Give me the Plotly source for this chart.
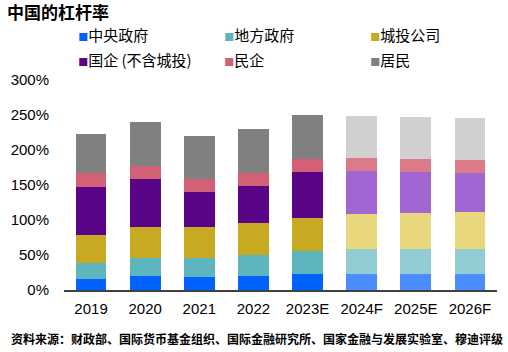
import plotly.graph_objects as go

years = ["2019", "2020", "2021", "2022", "2023E", "2024F", "2025E", "2026F"]
series_names = ["中央政府", "地方政府", "城投公司", "国企 (不含城投)", "民企", "居民"]
central = [15.7, 19.5, 19.0, 20.5, 23.3, 23.3, 23.3, 23.3]
local = [22.3, 25.7, 27.2, 29.0, 31.9, 35.3, 35.3, 35.3]
lgfv = [40.6, 45.3, 43.8, 46.2, 48.1, 50.0, 51.4, 52.8]
soe = [69.0, 68.1, 50.5, 53.3, 65.3, 61.4, 58.6, 55.7]
private = [19.1, 18.1, 18.5, 18.6, 18.5, 18.6, 18.5, 18.6]
household = [55.7, 62.8, 61.5, 61.9, 62.9, 60.0, 60.0, 60.0]
n_actual = 5

dark_colors = ["#0062FF", "#5FB5BD", "#C8AA22", "#5A0587", "#D36075", "#808080"]
light_colors = ["#4A8DFF", "#93CDD3", "#E8D77C", "#A266D3", "#DB7A89", "#D1CFD0"]

W, H = 508, 352
ML, MR, MT, MB = 61, 11, 80, 62
plot_w = W - ML - MR
plot_h = H - MT - MB

def paper_x(px):
    return (px - ML) / plot_w

def paper_y(py):
    return (H - MB - py) / plot_h

font_family = "Liberation Sans, Arial, Noto Sans CJK SC, sans-serif"
cjk = "Noto Sans CJK SC, Liberation Sans, sans-serif"

fig = go.Figure()
all_series = [central, local, lgfv, soe, private, household]
for i, (name, vals, dc, lc) in enumerate(zip(series_names, all_series, dark_colors, light_colors)):
    colors = [dc if k < n_actual else lc for k in range(len(years))]
    fig.add_trace(go.Bar(
        x=years, y=vals, name=name, showlegend=False, legendgroup=name,
        marker=dict(color=colors, line=dict(width=0)),
        hovertemplate="%{x}: %{y}%<extra>" + name + "</extra>",
    ))
    label = ("<span style='font-size:10px;color:%s'>■</span>" % dc) + name
    fig.add_trace(go.Scatter(
        x=[None], y=[None], mode="markers", name=label, legendgroup=name,
        legend="legend" if i < 3 else "legend2",
        marker=dict(symbol="square", size=1, color="rgba(0,0,0,0)"),
    ))

leg_common = dict(
    orientation="h", xref="paper", yref="paper",
    xanchor="left", yanchor="middle",
    entrywidth=101, entrywidthmode="pixels",
    font=dict(size=15, family=cjk, color="#000000"),
    itemwidth=30, bgcolor="rgba(0,0,0,0)", traceorder="normal",
    borderwidth=0,
)

fig.update_layout(
    barmode="stack",
    bargap=0.43,
    width=W, height=H,
    margin=dict(l=ML, r=MR, t=MT, b=MB),
    paper_bgcolor="white", plot_bgcolor="white",
    font=dict(family=font_family, size=15, color="#000000"),
    showlegend=True,
    legend=dict(leg_common, x=paper_x(35), y=paper_y(35)),
    legend2=dict(leg_common, x=paper_x(35), y=paper_y(60)),
    title=dict(
        text="<b>中国的杠杆率</b>", x=7 / W, xref="container", xanchor="left",
        y=1 - 13 / H, yref="container", yanchor="middle",
        font=dict(size=17, family=cjk, color="#000000"),
    ),
    xaxis=dict(
        showline=True, linecolor="#404040", linewidth=1.5,
        ticks="", showgrid=False, tickfont=dict(size=15),
        ticklabelstandoff=4,
    ),
    yaxis=dict(
        range=[0, 300], dtick=50, ticksuffix="%", showgrid=False,
        zeroline=False, showline=False, ticks="", ticklabelstandoff=14,
        tickfont=dict(size=15),
    ),
    annotations=[
        dict(text="<b>资料来源：财政部、国际货币基金组织、国际金融研究所、国家金融与发展实验室、穆迪评级</b>",
             x=paper_x(6), y=paper_y(338), xref="paper", yref="paper",
             showarrow=False, xanchor="left", yanchor="middle",
             font=dict(size=12, family=cjk, color="#000000")),
    ],
)

fig.write_html("out.html")
